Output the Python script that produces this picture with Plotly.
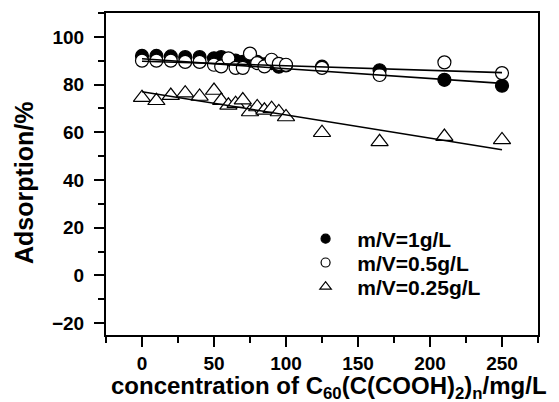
import plotly.graph_objects as go

conc = [0, 10, 20, 30, 40, 50, 55, 60, 65, 70, 75, 80, 85, 90, 95, 100, 125, 165, 210, 250]
ads_1 = [92, 92, 91.8, 91.5, 91.5, 91, 91.5, 90.5, 90, 89.5, 90, 89.5, 88.5, 89, 87.5, 88, 87.5, 86, 82, 79.5]
ads_05 = [90, 90, 90, 89.5, 89.5, 88.3, 87.6, 91, 87, 87, 93, 89, 87.6, 90.4, 88.7, 88.3, 87, 84, 89.3, 84.8]
ads_025 = [74.5, 73.2, 75.4, 76.4, 75, 77.5, 73.3, 71.3, 72, 73.5, 68.5, 70.6, 69.2, 69.9, 68.5, 66.4, 59.8, 56, 58.2, 56.8]

fit_x = [0, 250]
fit_1 = [90.8, 80.5]
fit_05 = [89.8, 85.0]
fit_025 = [77.0, 52.7]

names = ["m/V=1g/L", "m/V=0.5g/L", "m/V=0.25g/L"]
x_title = "concentration of C<sub>60</sub>(C(COOH)<sub>2</sub>)<sub>n</sub>/mg/L"
y_title = "Adsorption/%"

FONT = "Arial, Liberation Sans, sans-serif"
fig = go.Figure()

series = [(ads_1, "circle", 13, "black"), (ads_05, "circle", 13, "white"), (ads_025, "triangle-up", 15, "white")]
for ys, sym, sz, fc in series:
    fig.add_trace(go.Scatter(x=conc, y=ys, mode="markers",
                             marker=dict(symbol=sym, size=sz, color=fc,
                                         line=dict(color="black", width=1.2)),
                             showlegend=False))

for fy in [fit_1, fit_05, fit_025]:
    fig.add_trace(go.Scatter(x=fit_x, y=fy, mode="lines", line=dict(color="black", width=1.6),
                             showlegend=False, hoverinfo="skip"))

leg_syms = [("circle", 9), ("circle-open", 9), ("triangle-up-open", 10)]
leg_ids = ["legend", "legend2", "legend3"]
for (sym, sz), nm, lid in zip(leg_syms, names, leg_ids):
    fig.add_trace(go.Scatter(x=[None], y=[None], mode="markers", name="  " + nm, legend=lid,
                             marker=dict(symbol=sym, size=sz, color="black",
                                         line=dict(color="black", width=1.2))))

axis_common = dict(showline=True, linecolor="black", linewidth=2, mirror=True,
                   ticks="outside", tickcolor="black", tickwidth=1.5, ticklen=10,
                   showgrid=False, zeroline=False,
                   tickfont=dict(family=FONT, size=19, color="black", weight="bold"))

fig.update_xaxes(range=[-25, 275], tickvals=[0, 50, 100, 150, 200, 250],
                 minor=dict(ticks="outside", ticklen=6, tickwidth=1.5, tickcolor="black", dtick=25, tick0=0),
                 **axis_common)
fig.update_yaxes(range=[-25, 110], tickvals=[-20, 0, 20, 40, 60, 80, 100],
                 minor=dict(ticks="outside", ticklen=6, tickwidth=1.5, tickcolor="black", dtick=10, tick0=0),
                 ticklabelstandoff=6,
                 **axis_common)

fig.add_annotation(text=x_title, xref="paper", yref="paper", x=0.516, y=-0.218,
                   xanchor="center", yanchor="bottom", showarrow=False,
                   font=dict(family=FONT, size=24, color="black", weight="bold"))
fig.add_annotation(text=y_title, xref="paper", yref="paper", x=-0.19, y=0.475,
                   xanchor="center", yanchor="middle", showarrow=False, textangle=-90,
                   font=dict(family=FONT, size=25, color="black", weight="bold"))

leg_common = dict(xanchor="left", yanchor="middle", bgcolor="rgba(0,0,0,0)", itemwidth=30,
                  font=dict(family=FONT, size=21, color="black", weight="bold"))
fig.update_layout(width=559, height=402, margin=dict(l=106, r=21, t=13, b=67),
                  plot_bgcolor="white", paper_bgcolor="white",
                  legend=dict(x=0.462, y=0.298, **leg_common),
                  legend2=dict(x=0.462, y=0.224, **leg_common),
                  legend3=dict(x=0.462, y=0.149, **leg_common))

fig.write_html("out.html")
